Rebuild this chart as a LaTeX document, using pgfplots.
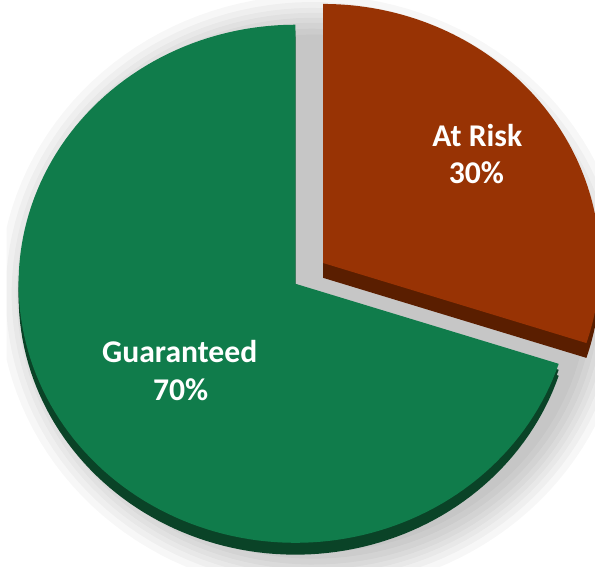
\documentclass[border=0pt]{standalone}
\usepackage{pgfplots}
\usepackage{pgfplotstable}
\pgfplotsset{compat=1.18}
\usepackage{fontspec}
\setmainfont{Carlito}
\definecolor{gtop}{HTML}{107C4B}
\definecolor{gside}{HTML}{0A4327}
\definecolor{otop}{HTML}{983304}
\definecolor{oside}{HTML}{5A1E00}
\pgfplotstableread{
label value
Guaranteed 70
AtRisk 30
}\piedata
\begin{document}
\pgfplotstablegetelem{0}{value}\of\piedata\let\vG\pgfplotsretval
\pgfplotstablegetelem{1}{value}\of\piedata\let\vR\pgfplotsretval
\pgfmathsetmacro{\gA}{90}
\pgfmathsetmacro{\gB}{90+3.6*\vG}
\pgfmathsetmacro{\rB}{\gB+3.6*\vR}
\begin{tikzpicture}
\begin{axis}[
  width=595pt, height=573pt, scale only axis,
  xmin=0, xmax=595, ymin=0, ymax=573,
  hide axis, clip=true,
  samples=140,
]
% soft shadow
\pgfplotsinvokeforeach{-12,-6,0,5,10,15,21,28}{
  \addplot[draw=none, fill=black, fill opacity=0.03, domain=0:360]
    ({310+(290+#1)*cos(x)},{276+(274+#1)*sin(x)}) -- cycle;
}
% Guaranteed slice: side
\pgfplotsinvokeforeach{12,6}{
  \addplot[draw=none, fill=gside, domain=\gA:\gB]
    ({292+280*cos(x)},{286-#1+262*sin(x)}) -- (axis cs:292,286-#1) -- cycle;
}
% Guaranteed slice: top
\addplot[draw=none, fill=gtop, domain=\gA:\gB]
  ({292+280*cos(x)},{286+262*sin(x)}) -- (axis cs:292,286) -- cycle;
% At Risk slice (exploded): side
\pgfplotsinvokeforeach{15,10,5}{
  \addplot[draw=none, fill=oside, domain=\gB:\rB]
    ({320+280*cos(x)},{307-#1+262*sin(x)}) -- (axis cs:320,307-#1) -- cycle;
}
% At Risk slice: top
\addplot[draw=none, fill=otop, domain=\gB:\rB]
  ({320+280*cos(x)},{307+262*sin(x)}) -- (axis cs:320,307) -- cycle;
% labels
\begin{scope}[every node/.style={text=white, font=\fontsize{32}{39}\selectfont\bfseries, anchor=base, inner sep=0pt}]
\node at (axis cs:175,206) {Guaranteed};
\node at (axis cs:176,168) {70\%};
\node at (axis cs:476,425) {At Risk};
\node at (axis cs:475,387) {30\%};
\end{scope}
\end{axis}
\end{tikzpicture}
\end{document}
